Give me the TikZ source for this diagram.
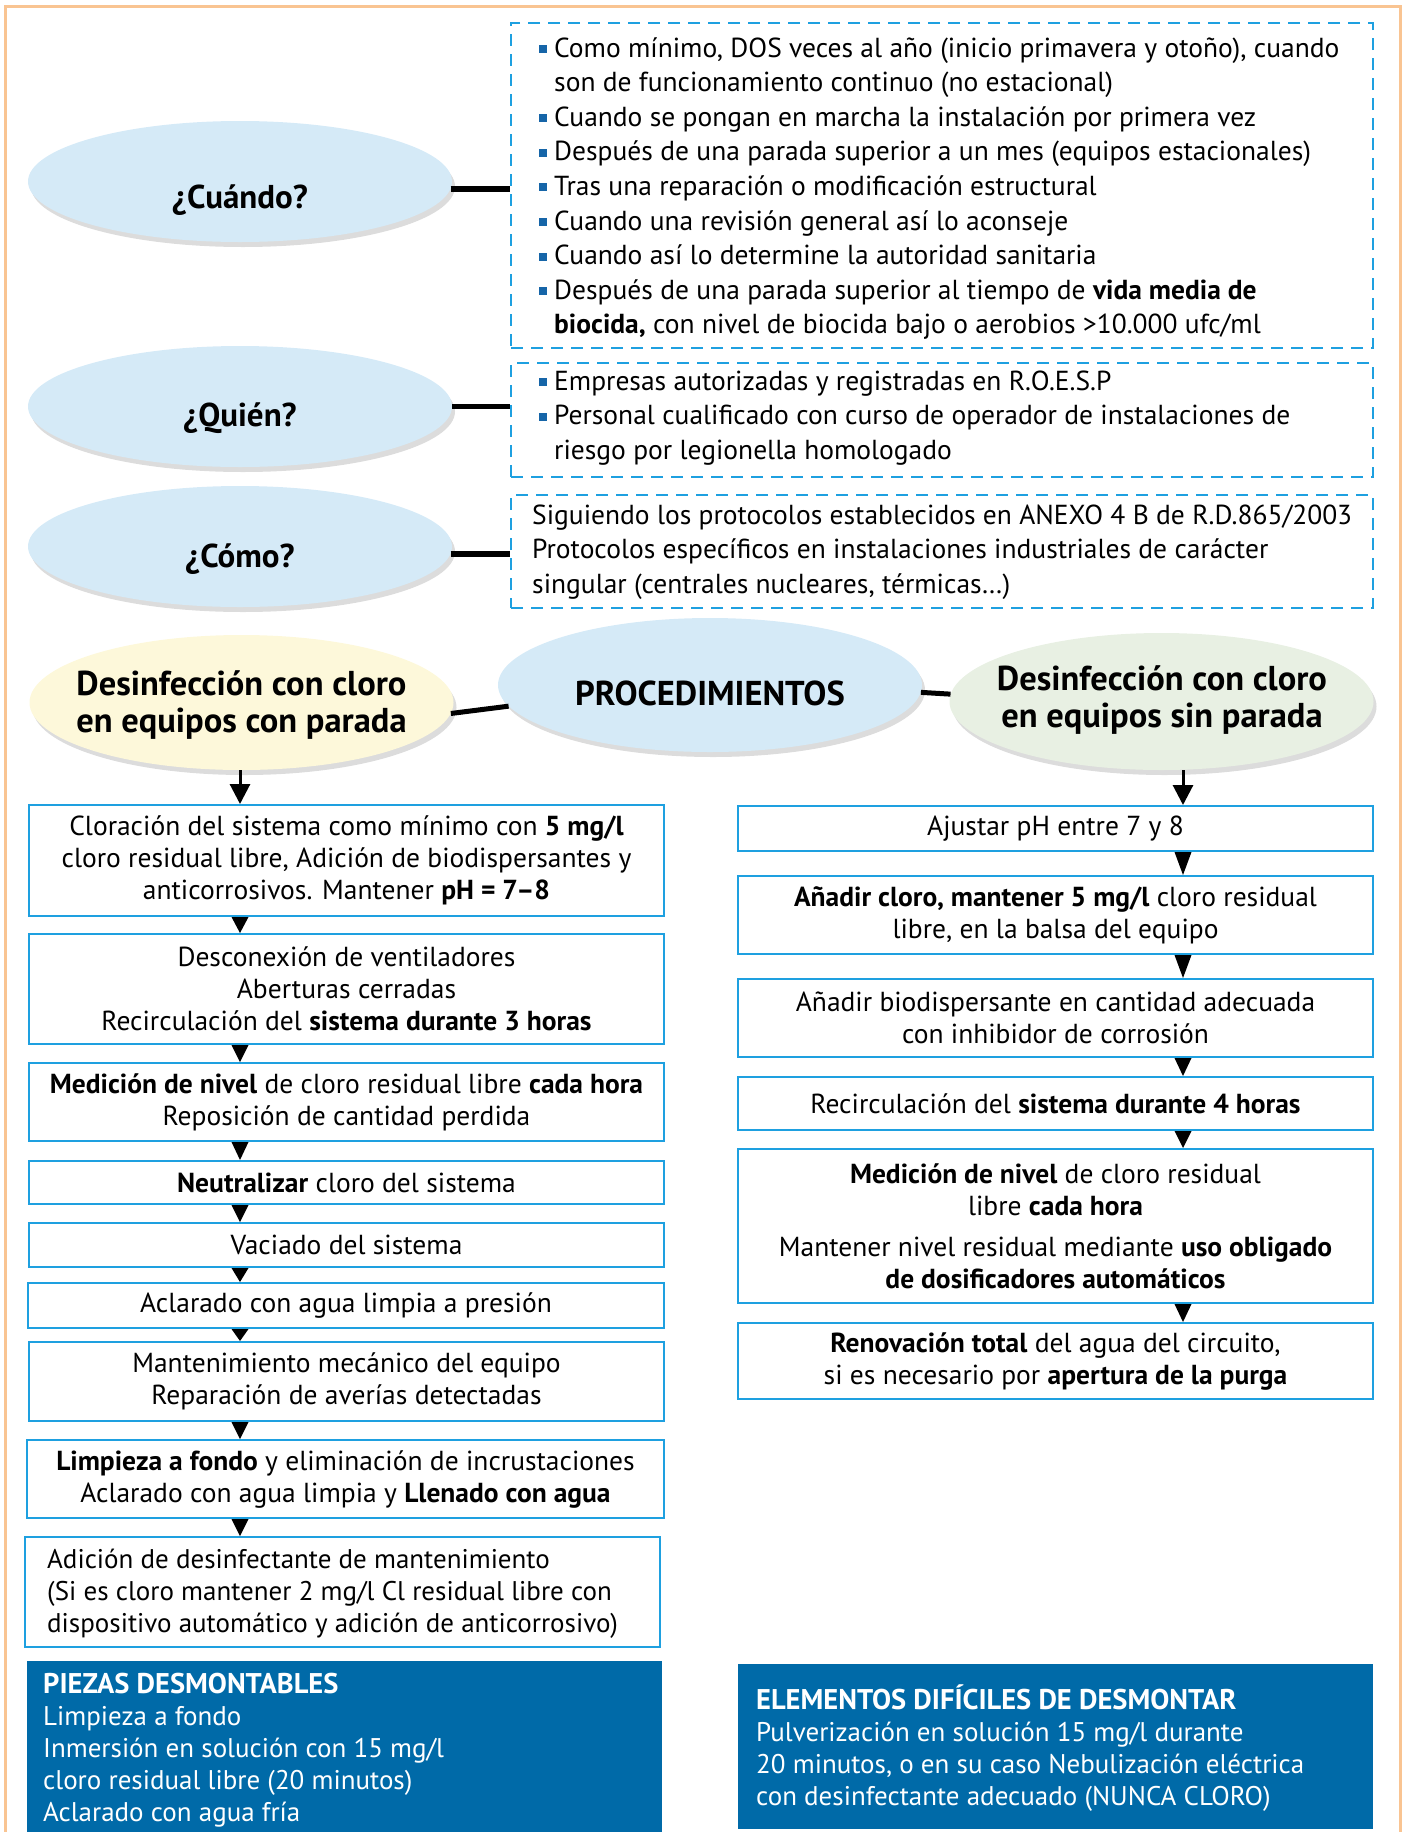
\documentclass[tikz,border=0pt]{standalone}
\usepackage{fontspec}
\setmainfont{PT Sans}
\usetikzlibrary{shapes.geometric,arrows.meta,shadows}
\definecolor{frameor}{RGB}{249,196,146}
\definecolor{boxblue}{RGB}{30,160,224}
\definecolor{ellblue}{RGB}{213,234,247}
\definecolor{ellyel}{RGB}{253,248,218}
\definecolor{ellgrn}{RGB}{232,240,227}
\definecolor{bulblue}{RGB}{22,101,168}
\definecolor{darkbox}{RGB}{0,106,168}
\newcommand{\mybul}{\makebox[15pt][l]{\textcolor{bulblue}{\rule[4pt]{8pt}{8pt}}}}
\newcommand{\myind}{\hspace*{15pt}}
\newcommand{\mydfont}{\fontsize{27.5}{34.6}\selectfont}
\newcommand{\myffont}{\fontsize{27.5}{32}\selectfont}
\newcommand{\mycfont}{\fontsize{27}{32}\selectfont}
\newcommand{\mybfont}{\fontsize{27}{32}\selectfont}
\newcommand{\mytfont}{\bfseries\fontsize{28.5}{32}\selectfont}
\newcommand{\myefont}{\bfseries\fontsize{34.5}{37}\selectfont}
\newcommand{\myqfont}{\bfseries\fontsize{33}{40}\selectfont}
\begin{document}
\begin{tikzpicture}[x=1pt,y=-1pt,
  ell/.style={ellipse, inner sep=0pt, minimum width=424pt, drop shadow={shadow xshift=3pt,shadow yshift=-5pt,opacity=0.25,fill=black!55}},
  qtext/.style={inner sep=0pt, font=\myqfont},
  etext/.style={inner sep=0pt, align=center, font=\myefont},
  dbox/.style={draw=boxblue, line width=2.2pt, dash pattern=on 12pt off 8pt, inner sep=0pt, minimum width=862pt},
  ltext/.style={inner sep=0pt, anchor=base west},
  fbox/.style={draw=boxblue, line width=2pt, inner sep=0pt, align=center, font=\myffont, minimum width=635pt},
  conn/.style={line width=5.5pt, black},
  downarr/.style={line width=3pt, -{Triangle[width=20pt,length=20pt]}},
  tri/.style={fill=black},
  dark/.style={fill=darkbox, inner sep=0pt, minimum width=635pt},
]
\useasboundingbox (0,0) rectangle (1403,1832);
\draw[frameor, line width=3pt] (5,1840) -- (5,6) -- (1400,6) -- (1400,1840);

% question ellipses
\node[ell, fill=ellblue, minimum height=121pt] (cuando) at (240,181.5) {};
\node[ell, fill=ellblue, minimum height=121pt] (quien) at (240,406.5) {};
\node[ell, fill=ellblue, minimum height=121pt] (como) at (240,546.5) {};
\node[qtext, anchor=base] (cuandoT) at (240,208) {¿Cuándo?};
\node[qtext, anchor=base] (quienT) at (240,426) {¿Quién?};
\node[qtext, anchor=base] (comoT) at (240,567) {¿Cómo?};

% dashed boxes
\node[dbox, minimum height=325pt] (when) at (942,185.5) {};
\node[dbox, minimum height=114pt] (who) at (942,420) {};
\node[dbox, minimum height=113pt] (how) at (942,551.5) {};

\node[ltext] (whenT) at (539,57) {\begin{minipage}[t]{850pt}\mydfont\raggedright
\mybul Como mínimo, DOS veces al año (inicio primavera y otoño), cuando\\
\myind son de funcionamiento continuo (no estacional)\\
\mybul Cuando se pongan en marcha la instalación por primera vez\\
\mybul Después de una parada superior a un mes (equipos estacionales)\\
\mybul Tras una reparación o modificación estructural\\
\mybul Cuando una revisión general así lo aconseje\\
\mybul Cuando así lo determine la autoridad sanitaria\\
\mybul Después de una parada superior al tiempo de \textbf{vida media de}\\
\myind\textbf{biocida,} con nivel de biocida bajo o aerobios >10.000 ufc/ml
\end{minipage}};

\node[ltext] (whoT) at (539,390) {\begin{minipage}[t]{850pt}\mydfont\raggedright
\mybul Empresas autorizadas y registradas en R.O.E.S.P\\
\mybul Personal cualificado con curso de operador de instalaciones de\\
\myind riesgo por legionella homologado
\end{minipage}};

\node[ltext] (howT) at (532,524) {\begin{minipage}[t]{850pt}\mydfont\raggedright
Siguiendo los protocolos establecidos en ANEXO 4 B de R.D.865/2003\\
Protocolos específicos en instalaciones industriales de carácter\\
singular (centrales nucleares, térmicas…)
\end{minipage}};

\draw[conn] (cuando.-2) -- (cuando.-2 -| when.west);
\draw[conn] (quien.0) -- (quien.0 -| who.west);
\draw[conn] (como.-2) -- (como.-2 -| how.west);

% procedure ellipses
\node[ell, fill=ellyel, minimum height=135pt] (yel) at (241.5,702.5) {};
\node[ell, fill=ellblue, minimum height=134pt] (proc) at (710,685) {};
\node[ell, fill=ellgrn, minimum height=137pt] (grn) at (1161.5,701.5) {};
\draw[conn, line width=5pt] (yel.-3) -- (proc.186);
\draw[conn, line width=5pt] (proc.-2) -- (grn.178);
\node[etext] (yelT) at (241.5,705) {Desinfección con cloro\\en equipos con parada};
\node[etext, anchor=base] (procT) at (710,705) {PROCEDIMIENTOS};
\node[etext] (grnT) at (1162,700) {Desinfección con cloro\\en equipos sin parada};

% left column
\node[fbox, minimum height=111pt] (c1) at (346.5,860.5) {Cloración del sistema como mínimo con \textbf{5 mg/l}\\cloro residual libre, Adición de biodispersantes y\\anticorrosivos. Mantener \textbf{pH = 7–8}};
\node[fbox, minimum height=110pt] (c2) at (346.5,989) {Desconexión de ventiladores\\Aberturas cerradas\\Recirculación del \textbf{sistema durante 3 horas}};
\node[fbox, minimum height=78pt] (c3) at (346.5,1102) {\textbf{Medición de nivel} de cloro residual libre \textbf{cada hora}\\Reposición de cantidad perdida};
\node[fbox, minimum height=43pt] (c4) at (346.5,1182.5) {\textbf{Neutralizar} cloro del sistema};
\node[fbox, minimum height=44pt] (c5) at (346.5,1245) {Vaciado del sistema};
\node[fbox, minimum height=45pt, minimum width=636pt] (c6) at (346,1305.5) {Aclarado con agua limpia a presión};
\node[fbox, minimum height=79pt] (c7) at (346.5,1381.5) {Mantenimiento mecánico del equipo\\Reparación de averías detectadas};
\node[fbox, minimum height=78pt, minimum width=637pt] (c8) at (345.5,1479) {\textbf{Limpieza a fondo} y eliminación de incrustaciones\\Aclarado con agua limpia y \textbf{Llenado con agua}};
\node[fbox, minimum height=110pt] (c9) at (342.5,1592) {};
\node[ltext] (c9T) at (47,1568) {\begin{minipage}[t]{600pt}\mycfont\raggedright
Adición de desinfectante de mantenimiento\\
(Si es cloro mantener 2 mg/l Cl residual libre con\\
dispositivo automático y adición de anticorrosivo)
\end{minipage}};

% right column
\node[fbox, minimum height=45pt] (r1) at (1055.5,828.5) {Ajustar pH entre 7 y 8};
\node[fbox, minimum height=78pt] (r2) at (1055.5,915) {\textbf{Añadir cloro, mantener 5 mg/l} cloro residual\\libre, en la balsa del equipo};
\node[fbox, minimum height=78pt] (r3) at (1055.5,1018) {Añadir biodispersante en cantidad adecuada\\con inhibidor de corrosión};
\node[fbox, minimum height=53pt] (r4) at (1055.5,1103.5) {Recirculación del \textbf{sistema durante 4 horas}};
\node[fbox, minimum height=154pt] (r5) at (1055.5,1226) {\textbf{Medición de nivel} de cloro residual\\libre \textbf{cada hora}\\[9pt]Mantener nivel residual mediante \textbf{uso obligado}\\\textbf{de dosificadores automáticos}};
\node[fbox, minimum height=76pt] (r6) at (1055.5,1361) {\textbf{Renovación total} del agua del circuito,\\si es necesario por \textbf{apertura de la purga}};

% arrows
\coordinate (lx) at (240,0);
\coordinate (rx) at (1183,0);
\draw[downarr] (yel.south -| lx) -- (c1.north -| lx);
\draw[downarr] (grn.south -| rx) -- (r1.north -| rx);
\foreach \a/\b in {c1/c2,c2/c3,c3/c4,c4/c5,c5/c6,c6/c7,c7/c8,c8/c9}
  \fill[tri] (\a.south -| lx) ++(-8.5,0) -- ++(17,0) -- (\b.north -| lx) -- cycle;
\foreach \a/\b in {r1/r2,r2/r3,r3/r4,r4/r5,r5/r6}
  \fill[tri] (\a.south -| rx) ++(-8.5,0) -- ++(17,0) -- (\b.north -| rx) -- cycle;

% bottom boxes
\node[dark, minimum height=180pt] (piezas) at (344.5,1751) {};
\node[dark, minimum height=165pt] (elem) at (1055.5,1746.5) {};
\node[ltext, text=white] (piezasT) at (43,1693) {\begin{minipage}[t]{600pt}\mybfont\raggedright
{\mytfont PIEZAS DESMONTABLES}\\
Limpieza a fondo\\
Inmersión en solución con 15 mg/l\\
cloro residual libre (20 minutos)\\
Aclarado con agua fría
\end{minipage}};
\node[ltext, text=white] (elemT) at (756,1709) {\begin{minipage}[t]{600pt}\mybfont\raggedright
{\mytfont ELEMENTOS DIFÍCILES DE DESMONTAR}\\
Pulverización en solución 15 mg/l durante\\
20 minutos, o en su caso Nebulización eléctrica\\
con desinfectante adecuado (NUNCA CLORO)
\end{minipage}};
\end{tikzpicture}
\end{document}
